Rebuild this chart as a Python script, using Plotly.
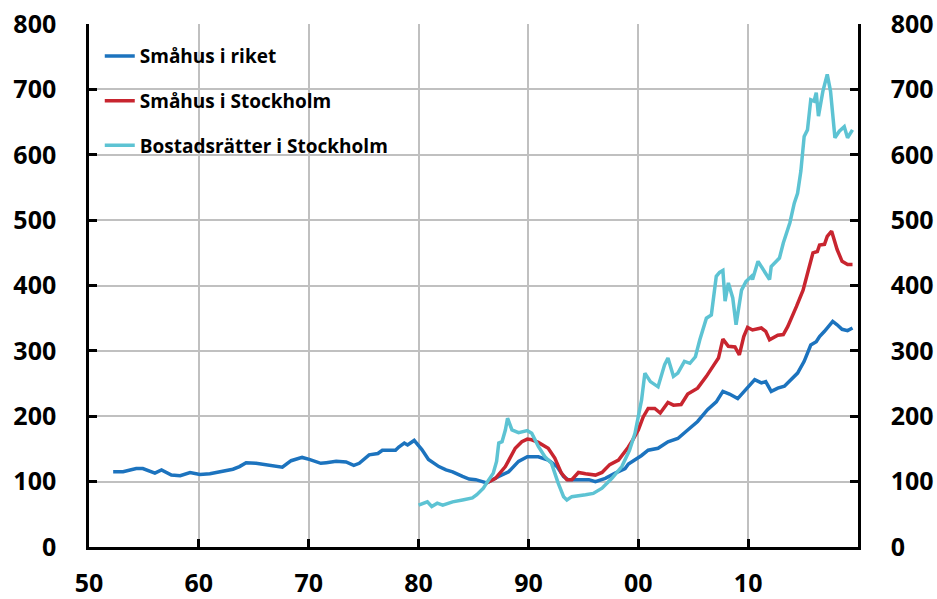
import plotly.graph_objects as go

# ---- data (decimal years, index values) ----
riket_x = [1952.2, 1953.1, 1954.3, 1954.9, 1956.0, 1956.6, 1957.5, 1958.3, 1959.2, 1960.1,
           1961.0, 1961.9, 1963.1, 1963.7, 1964.3, 1965.2, 1966.4, 1967.0, 1967.6, 1968.4,
           1969.4, 1970.05, 1971.1, 1971.6, 1972.5, 1973.4, 1974.1, 1974.6, 1975.5, 1976.3,
           1976.7, 1977.9, 1978.2, 1978.7, 1979.0, 1979.6, 1980.0, 1980.3, 1980.9, 1981.85,
           1982.5, 1983.1, 1984.0, 1984.6, 1985.2, 1985.9, 1986.2, 1987.3, 1988.2, 1989.1,
           1989.9, 1990.9, 1991.8, 1992.6, 1993.2, 1993.6, 1994.55, 1995.5, 1996.1, 1997.0,
           1997.9, 1998.8, 1999.1, 1999.7, 2000.3, 2000.9, 2001.8, 2002.7, 2003.6, 2004.5,
           2005.4, 2006.3, 2007.1, 2007.7, 2008.3, 2009.05, 2009.7, 2010.6, 2011.2, 2011.6,
           2012.1, 2012.7, 2013.3, 2013.9, 2014.5, 2015.1, 2015.7, 2016.2, 2016.5, 2016.95,
           2017.4, 2017.7, 2018.1, 2018.55, 2019.05, 2019.5]
riket_y = [115, 115, 120, 120, 113, 118, 110, 109, 114, 111,
           112, 115, 119, 123, 129, 128, 125, 123, 122, 132,
           137, 134, 128, 129, 131, 130, 125, 128, 141, 143,
           148, 148, 153, 159, 156, 163, 156, 149, 134, 123,
           118, 115, 108, 104, 103, 99, 98, 108, 115, 131,
           138, 138, 133, 123, 108, 103, 103, 103, 100, 105,
           113, 120, 127, 133, 140, 148, 151, 161, 166, 179,
           192, 210, 222, 238, 234, 227, 240, 256, 251, 253,
           238, 243, 246, 256, 266, 284, 309, 314, 322, 330,
           340, 345, 340, 333, 331, 335]

sthlm_x = [1986.2, 1987.0, 1987.9, 1988.8, 1989.4, 1989.9, 1990.3, 1990.9, 1991.8, 1992.4,
           1993.0, 1993.5, 1993.95, 1994.55, 1995.2, 1996.1, 1996.7, 1997.4, 1998.2, 1998.8,
           1999.1, 1999.5, 2000.0, 2000.45, 2000.9, 2001.5, 2002.0, 2002.7, 2003.2, 2003.9,
           2004.5, 2005.4, 2006.2, 2006.9, 2007.3, 2007.7, 2008.2, 2008.8, 2009.2, 2009.6,
           2009.95, 2010.4, 2011.2, 2011.6, 2011.95, 2012.7, 2013.2, 2013.6, 2013.9, 2014.4,
           2015.0, 2015.4, 2015.9, 2016.3, 2016.5, 2016.95, 2017.2, 2017.6, 2018.1, 2018.55,
           2019.05, 2019.5]
sthlm_y = [98, 105, 123, 151, 161, 165, 164, 160, 151, 136,
           113, 103, 103, 114, 112, 110, 114, 126, 133, 146,
           153, 164, 179, 199, 212, 212, 205, 221, 217, 218,
           234, 243, 261, 279, 289, 318, 307, 306, 294, 322,
           336, 332, 335, 330, 317, 324, 325, 337, 348, 368,
           393, 419, 450, 452, 462, 463, 475, 483, 455, 437,
           432, 432]

br_x = [1980.0, 1980.8, 1981.2, 1981.7, 1982.2, 1983.1, 1984.0, 1984.9, 1985.3, 1985.9,
        1986.2, 1986.8, 1987.1, 1987.3, 1987.6, 1987.9, 1988.1, 1988.5, 1989.1, 1989.9,
        1990.3, 1990.9, 1991.5, 1992.1, 1992.7, 1993.2, 1993.5, 1993.95, 1995.2, 1995.9,
        1996.7, 1997.6, 1998.5, 1999.2, 1999.7, 2000.0, 2000.3, 2000.6, 2001.1, 2001.8,
        2002.4, 2002.7, 2003.2, 2003.6, 2004.2, 2004.7, 2005.2, 2005.6, 2006.2, 2006.65,
        2007.1, 2007.4, 2007.7, 2007.9, 2008.2, 2008.6, 2008.9, 2009.4, 2009.8, 2010.3,
        2010.4, 2010.9, 2011.35, 2011.95, 2012.1, 2012.55, 2012.85, 2013.2, 2013.8, 2014.2,
        2014.5, 2014.8, 2015.1, 2015.4, 2015.7, 2016.0, 2016.2, 2016.4, 2016.8, 2017.2,
        2017.5, 2017.9, 2018.3, 2018.75, 2019.05, 2019.5]
br_y = [64, 69, 62, 67, 64, 69, 72, 75, 80, 90,
        98, 113, 131, 159, 161, 179, 197, 179, 175, 178,
        174, 154, 138, 128, 98, 77, 72, 77, 80, 82,
        90, 105, 123, 148, 174, 200, 225, 266, 253, 245,
        279, 289, 261, 266, 284, 281, 291, 317, 350, 355,
        414, 420, 423, 376, 404, 381, 340, 393, 406, 414,
        409, 437, 424, 409, 429, 437, 442, 465, 496, 526,
        541, 575, 628, 638, 684, 682, 695, 659, 697, 723,
        697, 626, 636, 643, 626, 638]

x_tickvals = [1950, 1960, 1970, 1980, 1990, 2000, 2010]
x_ticktext = ["50", "60", "70", "80", "90", "00", "10"]
y_tickvals = [0, 100, 200, 300, 400, 500, 600, 700, 800]

names = ["Småhus i riket", "Småhus i Stockholm", "Bostadsrätter i Stockholm"]
colors = ["#1c73be", "#c8252f", "#5dc3d3"]

FONT = "Open Sans"

fig = go.Figure()
for i, (xs, ys) in enumerate([(riket_x, riket_y), (sthlm_x, sthlm_y), (br_x, br_y)]):
    fig.add_trace(go.Scatter(
        x=xs, y=ys, mode="lines", name=names[i], legendgroup=f"g{i}",
        line=dict(color=colors[i], width=3.5)))

fig.add_trace(go.Scatter(x=[1950], y=[0], yaxis="y2", mode="markers",
                         marker=dict(opacity=0), showlegend=False, hoverinfo="skip"))

axis_common = dict(
    showline=True, linecolor="black", linewidth=2.5,
    ticks="inside", ticklen=8, tickwidth=2.5, tickcolor="black",
    tickfont=dict(family=FONT, size=25, color="black", weight="bold"),
    automargin=False, ticklabeloverflow="allow",
)

fig.update_layout(
    width=937, height=599,
    margin=dict(l=89, r=79, t=24, b=52),
    plot_bgcolor="white", paper_bgcolor="white",
    showlegend=True,
    legend=dict(x=0.014, y=0.975, xanchor="left", yanchor="top",
                bgcolor="rgba(0,0,0,0)", tracegroupgap=17,
                font=dict(family=FONT, size=19, color="black", weight="bold")),
    xaxis=dict(range=[1950, 2020], tickvals=x_tickvals, ticktext=x_ticktext,
               showgrid=True, gridcolor="#c0c0c0", gridwidth=1.5,
               ticklabelstandoff=12, zeroline=False, **axis_common),
    yaxis=dict(range=[0, 800], tickvals=y_tickvals,
               showgrid=True, gridcolor="#c0c0c0", gridwidth=1.5,
               ticklabelstandoff=25, zeroline=False, **axis_common),
    yaxis2=dict(range=[0, 800], tickvals=y_tickvals, overlaying="y", side="right",
                showgrid=False, ticklabelstandoff=25, zeroline=False, **axis_common),
)

fig.write_html(
    "out.html",
    config={"displayModeBar": False},
    post_script="document.body.style.margin='0';document.body.style.overflow='hidden';",
)
